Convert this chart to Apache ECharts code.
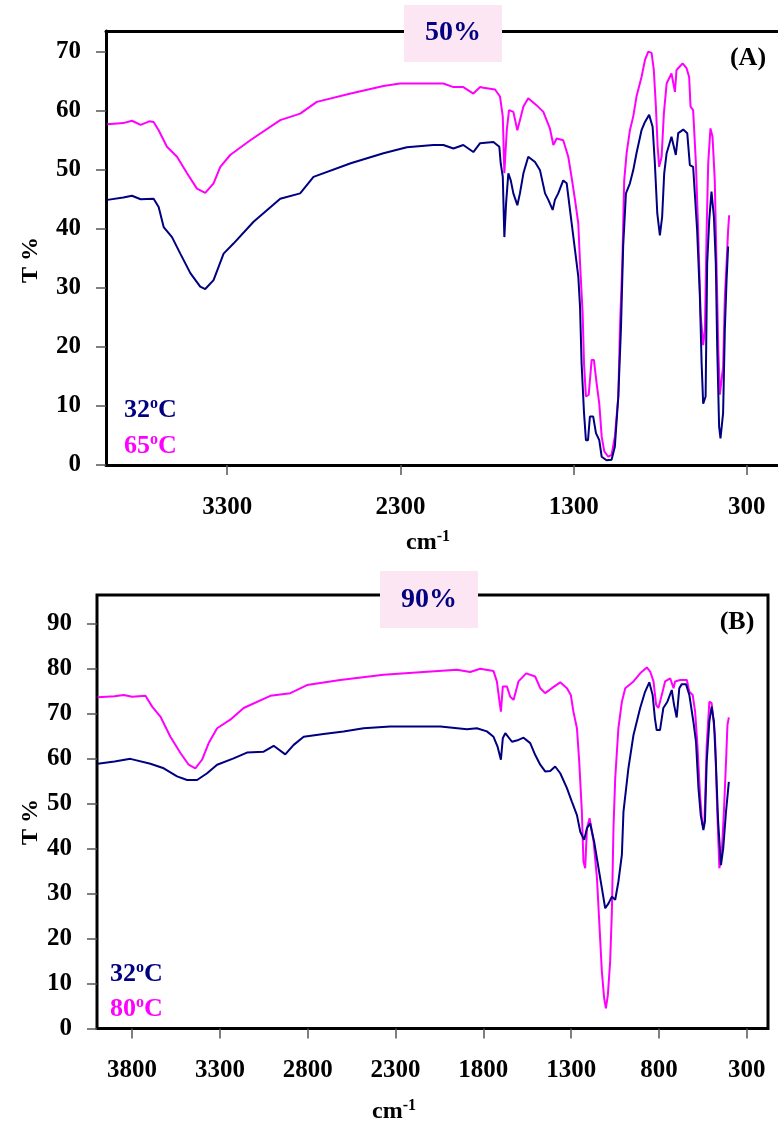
<!DOCTYPE html>
<html>
<head>
<meta charset="utf-8">
<script src="https://cdn.jsdelivr.net/npm/echarts@6/dist/echarts.min.js"></script>
<style>
html,body{margin:0;padding:0;background:#fff;}
#chart{width:778px;height:1131px;}
</style>
</head>
<body>
<div id="chart"></div>
<script>
// ---- Panel A (50%) ----
const wnA65 = [3992,3900,3850,3800,3750,3725,3696,3648,3590,3532,3475,3427,3379,3340,3283,3167,2994,2879,2783,2587,2398,2302,2052,1994,1937,1879,1840,1821,1754,1725,1709,1700,1686,1673,1648,1625,1610,1590,1562,1513,1475,1437,1417,1398,1360,1331,1312,1292,1273,1263,1248,1240,1229,1213,1196,1183,1167,1152,1138,1123,1100,1081,1062,1042,1033,1019,1008,994,975,956,937,908,888,869,850,837,825,815,806,792,779,763,735,715,706,671,648,633,625,610,594,581,567,552,542,532,523,510,498,485,475,465,456,437,427,417,408,402];
const tA65 = [57.7,57.9,58.3,57.6,58.2,58.1,56.7,53.9,52.2,49.4,46.8,46.1,47.7,50.5,52.5,55.0,58.4,59.5,61.5,62.9,64.2,64.6,64.6,64.0,64.0,62.9,64.0,63.9,63.6,62.4,59.0,49.4,56.7,60.1,59.8,56.7,58.4,60.7,62.1,60.9,59.8,57.0,54.2,55.3,55.0,52.2,48.8,44.9,40.9,34.1,25.7,17.2,11.6,11.9,17.8,17.8,13.8,10.4,4.8,2.3,1.4,1.7,4.8,11.6,22.9,34.1,48.2,52.8,56.7,59.0,62.4,65.7,68.6,70.0,69.8,66.9,60.7,53.9,50.5,52.2,59.5,64.6,66.3,63.2,66.9,68.0,67.2,65.7,60.7,60.1,51.1,39.8,25.7,20.3,22.9,39.8,51.1,57.0,55.6,48.2,34.1,20.0,11.9,16.6,28.5,34.1,39.8,42.3];

const wnA32 = [3992,3900,3850,3800,3725,3696,3667,3619,3571,3513,3456,3427,3379,3321,3264,3148,2994,2879,2802,2587,2398,2263,2110,2052,1994,1937,1879,1840,1763,1729,1721,1709,1700,1690,1677,1663,1648,1625,1610,1590,1562,1523,1494,1465,1446,1421,1408,1389,1360,1340,1321,1292,1273,1263,1254,1240,1229,1217,1206,1187,1171,1152,1138,1110,1081,1062,1042,1027,1014,998,975,956,937,908,888,864,844,831,817,802,789,777,763,735,710,696,667,644,629,610,587,571,561,552,538,529,517,504,490,479,471,460,452,437,427,417,408];
const tA32 = [44.9,45.3,45.6,45.0,45.1,43.7,40.3,38.6,35.8,32.5,30.2,29.8,31.3,35.8,37.5,41.2,45.1,46.0,48.8,51.1,52.8,53.8,54.2,54.2,53.6,54.2,53.0,54.5,54.7,53.9,51.1,48.8,38.6,44.3,49.4,48.2,46.0,44.0,46.0,49.4,52.2,51.3,49.9,46.0,44.9,43.2,44.9,46.0,48.2,47.7,43.2,36.4,31.9,26.8,17.2,8.8,4.2,4.2,8.2,8.2,5.4,4.2,1.4,0.8,0.9,3.1,11.6,22.9,37.0,46.0,47.7,49.9,52.8,56.7,58.1,59.3,57.3,51.1,42.6,38.9,42.0,49.4,52.8,55.6,52.5,56.2,56.8,56.2,50.8,50.5,39.8,28.5,17.2,10.4,11.6,34.1,41.5,46.3,42.0,34.1,20.0,6.5,4.5,8.8,22.9,31.3,37.0];

// ---- Panel B (90%) ----
const wnB80 = [3996,3900,3848,3800,3724,3686,3639,3582,3525,3478,3440,3402,3364,3316,3241,3165,3013,2899,2804,2615,2368,2140,1950,1875,1818,1742,1723,1708,1700,1689,1666,1647,1628,1600,1556,1505,1476,1448,1410,1362,1324,1302,1287,1267,1254,1239,1230,1220,1210,1195,1172,1153,1138,1125,1112,1102,1091,1078,1068,1059,1049,1031,1011,992,945,907,869,850,831,816,803,784,765,736,717,708,679,641,627,608,594,581,566,553,541,528,513,500,481,468,456,443,430,418,410,402];
const tB80 = [73.6,73.8,74.1,73.7,73.9,71.5,69.3,64.8,61.2,58.6,57.8,59.7,63.4,66.7,68.6,71.2,73.9,74.5,76.3,77.4,78.6,79.2,79.7,79.2,79.9,79.4,77.1,72.6,70.4,76.0,76.0,73.7,73.0,77.1,78.9,78.2,75.6,74.5,75.6,76.9,75.6,74.1,70.4,66.7,59.3,48.2,37.1,35.6,44.5,46.7,41.5,33.4,22.3,12.6,6.7,4.5,7.4,14.8,26.0,44.5,55.6,66.7,72.6,75.6,77.1,78.9,80.2,79.3,77.1,71.9,71.2,74.1,77.1,77.8,75.6,77.1,77.4,77.4,74.8,74.1,70.4,63.0,51.9,45.2,46.0,63.0,72.6,72.3,65.2,48.2,35.6,38.6,48.2,59.3,67.4,69.1];

const wnB32 = [3996,3900,3810,3696,3620,3544,3487,3430,3373,3316,3222,3146,3051,2994,2928,2880,2823,2710,2596,2482,2330,2045,1893,1837,1780,1742,1719,1700,1689,1675,1637,1600,1571,1533,1505,1476,1448,1419,1391,1362,1324,1296,1267,1248,1226,1210,1192,1169,1144,1125,1106,1087,1068,1049,1031,1011,1002,974,945,907,879,855,836,823,813,794,775,752,727,714,699,684,670,646,627,604,589,575,562,547,538,528,513,500,487,476,463,447,434,418,402];
const tB32 = [58.8,59.3,59.9,58.8,57.8,56.0,55.2,55.2,56.7,58.6,60.0,61.3,61.5,62.8,60.9,63.0,64.8,65.4,66.0,66.7,67.1,67.1,66.5,66.7,66.0,64.8,62.6,59.7,64.5,65.6,63.7,64.1,64.6,63.4,60.8,58.6,57.1,57.2,58.2,56.7,53.4,50.4,47.4,43.7,41.9,44.5,45.6,41.5,35.6,31.2,26.7,27.8,29.3,28.6,32.6,38.6,48.2,57.8,65.2,71.2,74.8,76.9,74.1,68.9,66.3,66.3,71.2,72.6,75.2,71.9,69.1,75.6,76.5,76.5,74.1,68.2,63.7,53.4,47.4,44.1,46.0,59.3,68.2,71.5,68.2,59.3,46.0,36.3,40.0,48.2,54.8];

// tick labels
const xTicksA = [300,1300,2300,3300];
const xTicksB = [300,800,1300,1800,2300,2800,3300,3800];
const yTicksA = [0,10,20,30,40,50,60,70];
const yTicksB = [0,10,20,30,40,50,60,70,80,90];

const NAVY = '#000080', MAG = '#ff00ff';
const FONT = '"Liberation Serif","Times New Roman",serif';

function zip(w, t){ return w.map((v,i)=>[v,t[i]]); }

const axisLabelStyle = {fontFamily: FONT, fontWeight: 'bold', fontSize: 25, color: '#000', formatter: v => String(v)};
const frameLine = {show: true, onZero: false, lineStyle: {color: '#000', width: 3}};

function xAx(gi, ticks, min, line){
  return {
    gridIndex: gi, type: 'value', inverse: true, min: min, max: 4000,
    axisLine: line ? frameLine : {show: false},
    splitLine: {show: false},
    axisTick: {show: true, inside: false, length: 10, customValues: ticks, lineStyle: {color: '#555', width: 1.5}},
    axisLabel: Object.assign({customValues: ticks, margin: 30}, axisLabelStyle)
  };
}
function yAx(gi, ticks, max, line){
  return {
    gridIndex: gi, type: 'value', min: 0, max: max,
    axisLine: line ? frameLine : {show: false},
    splitLine: {show: false},
    axisTick: {show: true, inside: false, length: 10, customValues: ticks, lineStyle: {color: '#555', width: 1.5}},
    axisLabel: Object.assign({customValues: ticks, margin: 25}, axisLabelStyle)
  };
}

const supRich = {
  s: {fontFamily: FONT, fontWeight: 'bold', fontSize: 16, padding: [0,0,12,0]}
};
function txt(x, y, text, color, size, extra){
  return {
    type: 'text', x: x, y: y, z: 100,
    style: Object.assign({text: text, fill: color, font: 'bold ' + size + 'px ' + FONT, rich: supRich}, extra || {})
  };
}

// panel A: frame via axis lines (right side runs off the page)
const minA = 120;
const pxPerUnitA = 0.17333;
const widthA = Math.round((4000 - minA) * pxPerUnitA);

const chart = echarts.init(document.getElementById('chart'), null, {renderer: 'canvas'});
chart.setOption({
  animation: false,
  backgroundColor: '#fff',
  grid: [
    {left: 106, top: 31, width: widthA, height: 434, show: false},
    {left: 97, top: 595, width: 671, height: 433.5, show: true, borderColor: '#000', borderWidth: 3, backgroundColor: 'transparent'}
  ],
  xAxis: [
    xAx(0, xTicksA, minA, true),
    xAx(1, xTicksB, 179, false),
    {gridIndex: 0, type: 'value', inverse: true, min: minA, max: 4000, position: 'top',
     axisLine: frameLine, axisTick: {show: false}, axisLabel: {show: false}, splitLine: {show: false}}
  ],
  yAxis: [yAx(0, yTicksA, 73.5, true), yAx(1, yTicksB, 96.3, false)],
  series: [
    {type: 'line', xAxisIndex: 0, yAxisIndex: 0, data: zip(wnA65, tA65), showSymbol: false, lineStyle: {color: MAG, width: 2}, itemStyle: {color: MAG}},
    {type: 'line', xAxisIndex: 0, yAxisIndex: 0, data: zip(wnA32, tA32), showSymbol: false, lineStyle: {color: NAVY, width: 2}, itemStyle: {color: NAVY}},
    {type: 'line', xAxisIndex: 1, yAxisIndex: 1, data: zip(wnB80, tB80), showSymbol: false, lineStyle: {color: MAG, width: 2}, itemStyle: {color: MAG}},
    {type: 'line', xAxisIndex: 1, yAxisIndex: 1, data: zip(wnB32, tB32), showSymbol: false, lineStyle: {color: NAVY, width: 2}, itemStyle: {color: NAVY}}
  ],
  graphic: [
    {type: 'rect', shape: {x: 404, y: 5, width: 98, height: 57}, style: {fill: '#fde6f3'}, z: 90},
    txt(453, 33, '50%', NAVY, 28, {textAlign: 'center', textVerticalAlign: 'middle'}),
    {type: 'rect', shape: {x: 380, y: 571, width: 98, height: 57}, style: {fill: '#fde6f3'}, z: 90},
    txt(429, 600, '90%', NAVY, 28, {textAlign: 'center', textVerticalAlign: 'middle'}),
    txt(748, 58, '(A)', '#000', 26, {textAlign: 'center', textVerticalAlign: 'middle'}),
    txt(737, 622, '(B)', '#000', 26, {textAlign: 'center', textVerticalAlign: 'middle'}),
    txt(124, 410, '32{s|o}C', NAVY, 26, {textAlign: 'left', textVerticalAlign: 'middle'}),
    txt(124, 446, '65{s|o}C', MAG, 26, {textAlign: 'left', textVerticalAlign: 'middle'}),
    txt(110, 974, '32{s|o}C', NAVY, 26, {textAlign: 'left', textVerticalAlign: 'middle'}),
    txt(110, 1009, '80{s|o}C', MAG, 26, {textAlign: 'left', textVerticalAlign: 'middle'}),
    txt(428, 543, 'cm{s|-1}', '#000', 24, {textAlign: 'center', textVerticalAlign: 'middle'}),
    txt(394, 1112, 'cm{s|-1}', '#000', 24, {textAlign: 'center', textVerticalAlign: 'middle'}),
    Object.assign(txt(31, 260, 'T %', '#000', 24, {textAlign: 'center', textVerticalAlign: 'middle'}), {rotation: Math.PI/2}),
    Object.assign(txt(31, 822, 'T %', '#000', 24, {textAlign: 'center', textVerticalAlign: 'middle'}), {rotation: Math.PI/2})
  ]
});
</script>
</body>
</html>
